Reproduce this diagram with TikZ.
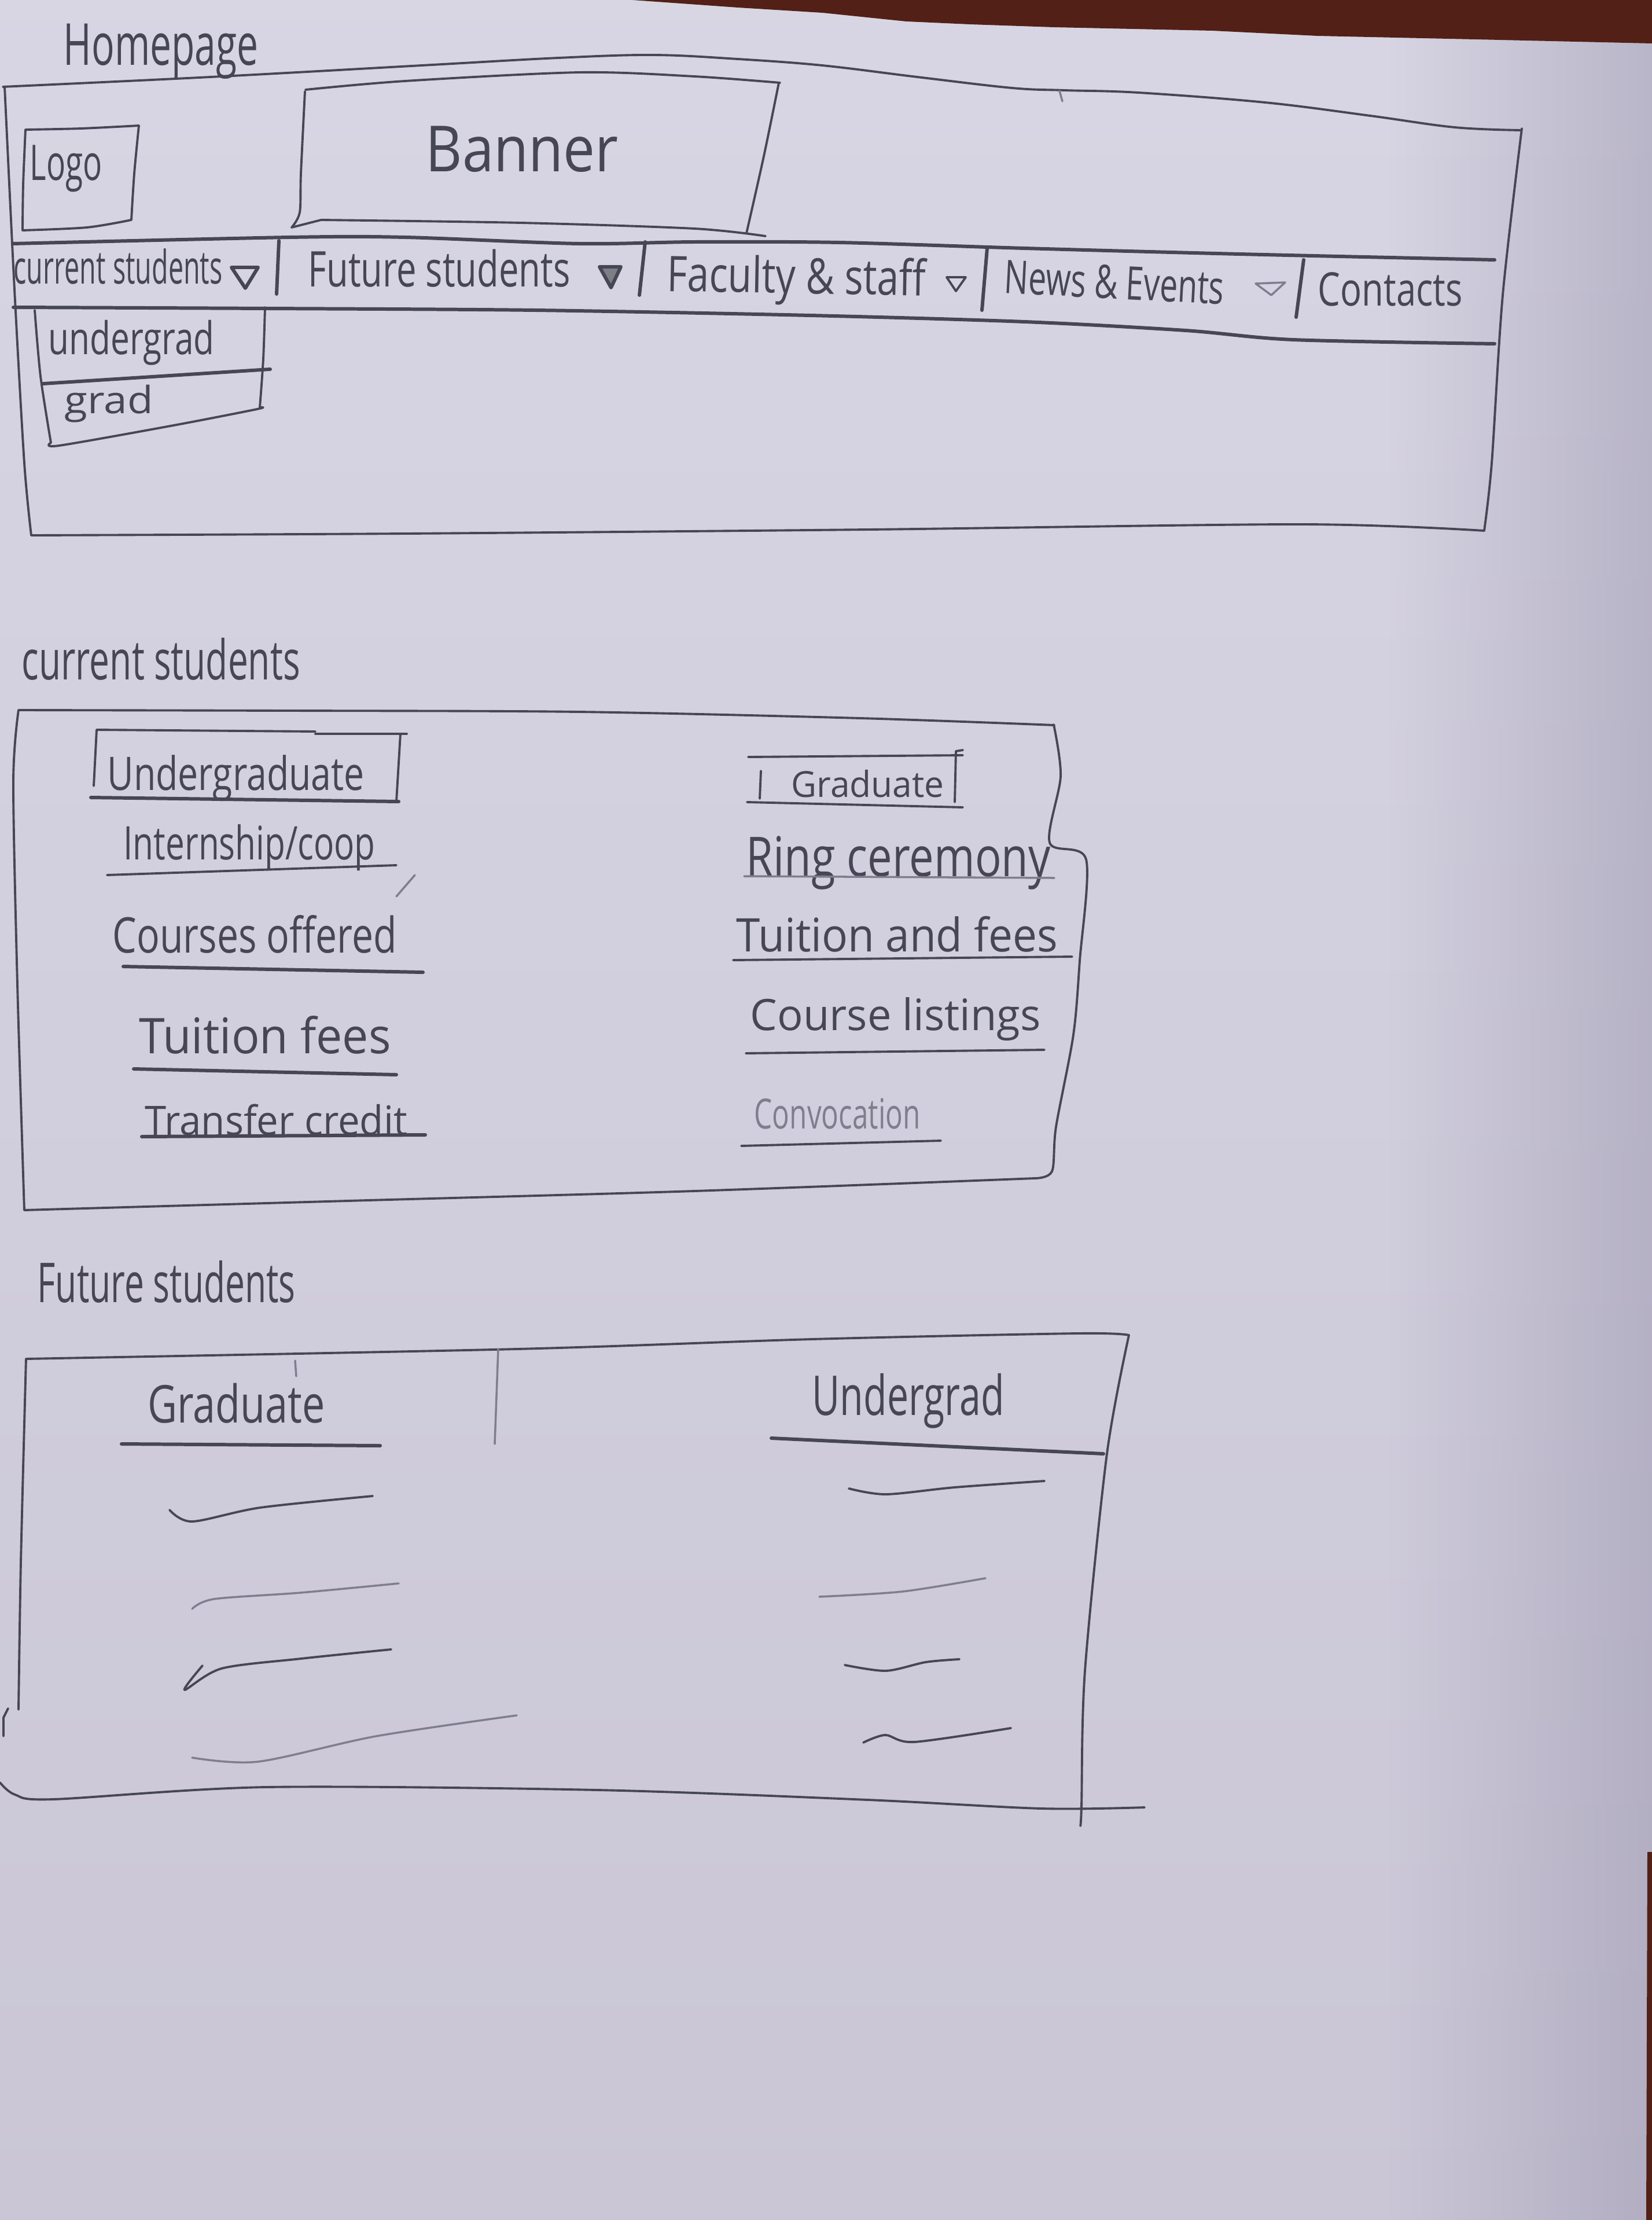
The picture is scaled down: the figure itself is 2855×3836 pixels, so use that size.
\documentclass[tikz,border=0pt]{standalone}
\usepackage{graphicx}
\usepackage{fontspec}
\setmainfont{Open Sans}
\usetikzlibrary{fadings}
\newlength\pxu
\setlength\pxu{0.01cm}
% handwritten label: #1 target width, #2 font size (both in sheet units), #3 text
\newcommand\pen[3]{\resizebox{#1\pxu}{\height}{\fontsize{#2\pxu}{#2\pxu}\selectfont #3}}
\definecolor{papertop}{RGB}{224,222,234}
\definecolor{papermid}{RGB}{214,212,226}
\definecolor{paperlow}{RGB}{202,198,214}
\definecolor{paperbot}{RGB}{178,171,190}
\definecolor{papershade}{RGB}{150,144,170}
\definecolor{wood}{RGB}{82,32,22}
\definecolor{pencil}{RGB}{70,70,84}
\definecolor{faintpencil}{RGB}{128,126,142}
\pgfdeclareverticalshading{sheet}{100bp}{color(0bp)=(paperbot); color(25bp)=(paperlow);
  color(70bp)=(papermid); color(100bp)=(papertop)}
\tikzfading[name=towardright, left color=transparent!100, right color=transparent!0]
\begin{document}
\begin{tikzpicture}[x=0.01cm,y=-0.01cm,
  stroke/.style={draw=pencil,line width=1.1pt,line cap=round,line join=round},
  boldstroke/.style={stroke,line width=1.7pt},
  lightstroke/.style={draw=faintpencil,line width=1pt,line cap=round,line join=round},
  txt/.style={text=pencil,inner sep=0pt,anchor=base west},
  lighttxt/.style={txt,text=faintpencil}]
\useasboundingbox (0,0) rectangle (2855,3836);
% sheet of paper and the table behind it
\shade[shading=sheet] (0,0) rectangle (2855,3836);
\fill[papershade,fill opacity=0.45,path fading=towardright] (2400,0) rectangle (2855,3836);
\fill[wood] (1093,0) -- (1275,13) -- (1421,22) -- (1566,37) -- (1676,42) -- (1821,47)
  -- (2095,53) -- (2277,62) -- (2550,68) -- (2855,75) -- (2855,0) -- cycle;
\fill[wood] (2847,3200) -- (2855,3200) -- (2855,3836) -- (2845,3836) -- cycle;

% ---------------- Homepage ----------------
\node[txt] (hp) at (109,112) {\pen{337}{100}{Homepage}};
% page frame
\draw[stroke] plot[smooth,tension=0.6] coordinates {(5,150) (364,133) (729,113) (965,100) (1129,95)
  (1275,102) (1421,113) (1585,133) (1749,152) (1840,156) (1967,160) (2186,177) (2368,200) (2514,220) (2628,225)};
\draw[stroke] plot[smooth] coordinates {(2630,222) (2597,510) (2578,800) (2565,917)};
\draw[stroke] plot[smooth] coordinates {(54,925) (700,922) (1500,915) (2250,906) (2565,917)};
\draw[stroke] plot[smooth] coordinates {(8,150) (25,500) (42,800) (54,925)};
\draw[lightstroke] (1831,157) -- (1836,175);
% logo
\draw[stroke] plot[smooth] coordinates {(44,224) (140,222) (240,217)};
\draw[stroke] plot[smooth] coordinates {(240,217) (232,300) (227,380)};
\draw[stroke] plot[smooth] coordinates {(39,398) (150,393) (227,380)};
\draw[stroke] plot[smooth] coordinates {(44,224) (40,320) (39,398)};
\node[txt] (logo) at (51,311) {\pen{125}{85}{Logo}};
% banner
\draw[stroke] plot[smooth] coordinates {(528,155) (700,140) (1002,125) (1200,132) (1348,143)};
\draw[stroke] plot[smooth] coordinates {(1346,143) (1320,270) (1290,403)};
\draw[stroke] plot[smooth] coordinates {(527,158) (520,300) (518,367) (504,393)};
\draw[stroke] (504,393) -- (555,380);
\draw[stroke] plot[smooth] coordinates {(555,380) (900,385) (1200,395) (1323,408)};
\node[txt] (banner) at (735,296) {\pen{333}{110}{Banner}};
% navigation bar
\draw[boldstroke] plot[smooth] coordinates {(23,421) (500,410) (700,410) (1000,421) (1200,418) (1450,419)
  (1771,429) (2142,439) (2583,449)};
\draw[boldstroke] plot[smooth] coordinates {(23,531) (463,533) (925,536) (1400,545) (1771,556) (2049,571) (2235,587) (2583,594)};
\node[txt] (navcur) at (23,490) {\pen{361}{80}{current students}};
\draw[boldstroke] (400,462) -- (446,462) -- (424,498) -- cycle;
\draw[boldstroke] (482,416) -- (478,508);
\node[txt] (navfut) at (532,495) {\pen{453}{85}{Future students}};
\filldraw[boldstroke,fill=pencil!70] (1036,461) -- (1073,461) -- (1056,497) -- cycle;
\draw[boldstroke] (1115,418) -- (1105,510);
\node[txt,rotate=-1] (navfac) at (1152,503) {\pen{447}{85}{Faculty \& staff}};
\draw[stroke] (1636,479) -- (1669,479) -- (1652,503) -- cycle;
\draw[boldstroke] (1706,429) -- (1697,536);
\node[txt,rotate=-3] (navnews) at (1734,506) {\pen{380}{80}{News \& Events}};
\draw[lightstroke] (2170,490) -- (2221,488) -- (2197,510) -- cycle;
\draw[boldstroke] (2253,449) -- (2240,548);
\node[txt] (navcon) at (2277,528) {\pen{250}{80}{Contacts}};
% drop-down of the first menu
\draw[stroke] plot[smooth] coordinates {(60,536) (70,650) (88,765)};
\draw[stroke] plot[smooth] coordinates {(458,531) (455,620) (449,704)};
\draw[boldstroke] (74,663) -- (467,638);
\draw[stroke] plot[smooth] coordinates {(88,765) (102,770) (300,735) (444,707) (449,704)};
\node[txt] (ddug) at (83,612) {\pen{287}{78}{undergrad}};
\node[txt] (ddgr) at (111,714) {\pen{153}{65}{grad}};

% ---------------- Current students ----------------
\node[txt] (cslabel) at (37,1174) {\pen{481}{95}{current students}};
\draw[stroke] plot[smooth] coordinates {(32,1227) (500,1228) (1000,1230) (1487,1241) (1822,1253)};
\draw[stroke] plot[smooth,tension=0.5] coordinates {(1821,1252) (1833,1341) (1814,1456) (1877,1485)
  (1866,1660) (1855,1788) (1825,1947) (1818,2024) (1788,2036)};
\draw[stroke] plot[smooth] coordinates {(42,2091) (600,2075) (1200,2058) (1788,2036)};
\draw[stroke] plot[smooth] coordinates {(32,1227) (23,1351) (30,1700) (42,2091)};
% left column
\draw[stroke] (167,1261) -- (545,1264);
\draw[stroke] (545,1268) -- (703,1268);
\draw[stroke] (167,1261) -- (162,1358);
\draw[stroke] (692,1268) -- (685,1385);
\draw[boldstroke] (157,1378) -- (689,1385);
\node[txt] (csug) at (185,1365) {\pen{444}{80}{Undergraduate}};
\node[txt] (csintern) at (213,1485) {\pen{435}{80}{Internship/coop}};
\draw[stroke] (185,1512) -- (685,1495);
\draw[lightstroke] (685,1549) -- (717,1512);
\node[txt] (cscourses) at (194,1646) {\pen{491}{85}{Courses offered}};
\draw[boldstroke] (213,1670) -- (731,1680);
\node[txt] (cstuition) at (240,1820) {\pen{435}{85}{Tuition fees}};
\draw[boldstroke] (231,1847) -- (685,1857);
\node[txt] (cstransfer) at (250,1961) {\pen{453}{70}{Transfer credit}};
\draw[boldstroke] (245,1964) -- (735,1961);
% right column
\draw[stroke] (1293,1308) -- (1664,1305);
\draw[stroke] (1315,1332) -- (1313,1380);
\draw[stroke] (1664,1296) -- (1652,1298) -- (1650,1386);
\draw[stroke] (1291,1386) -- (1664,1395);
\node[txt] (csgrad) at (1367,1377) {\pen{264}{62}{Graduate}};
\node[txt] (csring) at (1289,1514) {\pen{526}{95}{Ring ceremony}};
\draw[lightstroke] (1286,1514) -- (1822,1517);
\node[txt] (cstuit2) at (1272,1644) {\pen{555}{80}{Tuition and fees}};
\draw[stroke] (1267,1659) -- (1853,1653);
\node[txt] (cslist) at (1296,1780) {\pen{502}{75}{Course listings}};
\draw[stroke] (1289,1820) -- (1805,1814);
\node[lighttxt] (csconv) at (1303,1950) {\pen{287}{72}{Convocation}};
\draw[stroke] (1281,1980) -- (1626,1971);

% ---------------- Future students ----------------
\node[txt] (fslabel) at (64,2250) {\pen{446}{95}{Future students}};
\draw[stroke] plot[smooth] coordinates {(45,2348) (893,2331) (1403,2314) (1862,2304) (1951,2307)};
\draw[stroke] plot[smooth] coordinates {(1951,2307) (1913,2512) (1875,2887) (1869,3121) (1867,3155)};
\draw[stroke] plot[smooth] coordinates {(45,2348) (36,2700) (32,2954)};
\draw[stroke] (14,2952) -- (6,2968) -- (6,3000);
\draw[stroke] plot[smooth] coordinates {(0,3080) (26,3101) (92,3109) (459,3088) (1033,3093) (1500,3110) (1800,3125) (1978,3123)};
\draw[lightstroke] (861,2331) -- (855,2495);
\draw[lightstroke] (510,2351) -- (512,2378);
\node[txt] (fsgrad) at (255,2458) {\pen{306}{90}{Graduate}};
\draw[boldstroke] (210,2495) -- (657,2498);
\node[txt] (fsug) at (1403,2445) {\pen{332}{95}{Undergrad}};
\draw[boldstroke] (1333,2485) -- (1907,2512);
% placeholder links, graduate side
\draw[stroke] plot[smooth] coordinates {(293,2609) (332,2629) (450,2605) (644,2585)};
\draw[lightstroke] plot[smooth] coordinates {(332,2780) (370,2763) (520,2752) (689,2736)};
\draw[stroke] plot[smooth] coordinates {(350,2878) (319,2920) (383,2883) (520,2866) (676,2850)};
\draw[lightstroke] plot[smooth] coordinates {(332,3037) (446,3044) (650,3000) (893,2964)};
% placeholder links, undergraduate side
\draw[stroke] plot[smooth] coordinates {(1467,2572) (1531,2582) (1650,2570) (1805,2559)};
\draw[lightstroke] plot[smooth] coordinates {(1416,2759) (1560,2750) (1703,2727)};
\draw[stroke] plot[smooth] coordinates {(1460,2877) (1531,2887) (1600,2872) (1658,2867)};
\draw[stroke] plot[smooth] coordinates {(1492,3011) (1530,2998) (1580,3010) (1747,2986)};
\end{tikzpicture}
\end{document}
